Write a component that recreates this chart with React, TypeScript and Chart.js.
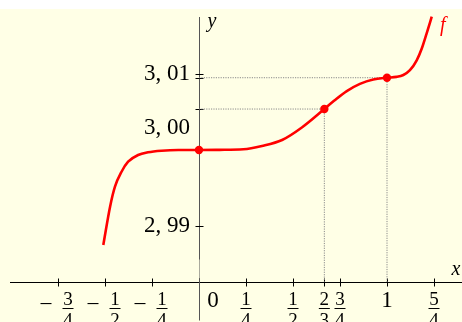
import React, { useEffect, useRef } from 'react';
import { Chart, registerables } from 'chart.js';

Chart.register(...registerables);

// Curve f
const curveX = [-0.509, -0.473, -0.447, -0.412, -0.377, -0.324, -0.271, -0.199, -0.11, 0, 0.11, 0.236, 0.335, 0.442, 0.549, 2 / 3, 0.72, 0.786, 0.856, 0.927, 1, 1.05, 1.087, 1.122, 1.158, 1.185, 1.211, 1.238];
const curveY = [2.9875, 2.99254, 2.99517, 2.99714, 2.99846, 2.99934, 2.9997, 2.99991, 3.0, 3.0, 3.00002, 3.00009, 3.00053, 3.00132, 3.003, 3.00539, 3.0065, 3.00775, 3.0087, 3.00928, 3.00951, 3.00962, 3.00987, 3.0105, 3.0118, 3.01335, 3.01535, 3.01754];

// Marked points
const markedX = [0, 2 / 3, 1];
const markedY = [3.0, 3.00539, 3.00951];

// Ticks
const xTickValues = [-0.75, -0.5, -0.25, 0, 0.25, 0.5, 2 / 3, 0.75, 1, 1.25];
const xTickLabels = ['-3/4', '-1/2', '-1/4', '0', '1/4', '1/2', '2/3', '3/4', '1', '5/4'];
const yTickValues = [2.99, 3.0, 3.01];
const yTickLabels = ['2, 99', '3, 00', '3, 01'];

// Where the x-axis crosses the (truncated) y-axis
const xAxisAt = 2.98263;

const RED = '#ff0000';
const BG = '#ffffe6';
const SERIF = '"Liberation Serif", "DejaVu Serif", serif';

function drawFraction(ctx: CanvasRenderingContext2D, cx: number, top: number, label: string) {
  let neg = false;
  let s = label;
  if (s.startsWith('-')) { neg = true; s = s.slice(1); }
  ctx.textAlign = 'center';
  ctx.textBaseline = 'alphabetic';
  if (!s.includes('/')) {
    ctx.font = `23px ${SERIF}`;
    ctx.fillText(s, cx, top + 18);
    return;
  }
  const [num, den] = s.split('/');
  let fx = cx;
  if (neg) {
    fx = cx + 10;
    const mx = cx - 12;
    ctx.fillRect(mx - 5.5, top + 14, 11, 1.1);
  }
  ctx.font = `19px ${SERIF}`;
  ctx.fillText(num, fx, top + 16);
  ctx.fillRect(fx - 5.5, top + 19, 11, 1);
  ctx.fillText(den, fx, top + 37);
}

const axesPlugin = {
  id: 'mathAxes',
  beforeDraw(chart: any) {
    const { ctx, width, height } = chart;
    ctx.save();
    ctx.fillStyle = '#ffffff';
    ctx.fillRect(0, 0, width, height);
    ctx.fillStyle = BG;
    ctx.fillRect(0, 9, width, height - 9);
    ctx.restore();
  },
  beforeDatasetsDraw(chart: any) {
    const { ctx, width } = chart;
    const xs = chart.scales.x;
    const ys = chart.scales.y;
    const x0 = Math.round(xs.getPixelForValue(0)) + 0.5;
    const yA = Math.round(ys.getPixelForValue(xAxisAt)) + 0.5;
    ctx.save();
    // x axis
    ctx.strokeStyle = '#000';
    ctx.lineWidth = 1;
    ctx.beginPath();
    ctx.moveTo(10, yA);
    ctx.lineTo(width, yA);
    ctx.stroke();
    for (const v of xTickValues) {
      const px = Math.round(xs.getPixelForValue(v)) + 0.5;
      ctx.beginPath();
      ctx.moveTo(px, yA - 4);
      ctx.lineTo(px, yA + 4);
      ctx.stroke();
    }
    // y axis (truncated)
    ctx.strokeStyle = '#555';
    ctx.beginPath();
    ctx.moveTo(x0, 17);
    ctx.lineTo(x0, yA - 23);
    ctx.stroke();
    ctx.setLineDash([1, 1]);
    ctx.beginPath();
    ctx.moveTo(x0, yA - 23);
    ctx.lineTo(x0, yA - 4);
    ctx.stroke();
    ctx.setLineDash([]);
    ctx.beginPath();
    ctx.moveTo(x0, yA - 4);
    ctx.lineTo(x0, yA + 38);
    ctx.stroke();
    // y ticks
    ctx.strokeStyle = '#000';
    const yt = [...yTickValues, ...markedY.slice(1)];
    for (const v of yt) {
      const py = Math.round(ys.getPixelForValue(v)) + 0.5;
      ctx.beginPath();
      ctx.moveTo(x0 - 4, py);
      ctx.lineTo(x0 + 4, py);
      ctx.stroke();
    }
    ctx.restore();
  },
  afterDraw(chart: any) {
    const { ctx, width } = chart;
    const xs = chart.scales.x;
    const ys = chart.scales.y;
    const x0 = xs.getPixelForValue(0);
    const yA = ys.getPixelForValue(xAxisAt);
    ctx.save();
    ctx.fillStyle = '#000';
    // x tick labels
    xTickValues.forEach((v, i) => {
      let px = xs.getPixelForValue(v);
      if (v === 0) px += 14;
      drawFraction(ctx, px, yA + 7, xTickLabels[i]);
    });
    // y tick labels
    ctx.font = `23px ${SERIF}`;
    ctx.textAlign = 'right';
    ctx.textBaseline = 'middle';
    yTickValues.forEach((v, i) => {
      let py = ys.getPixelForValue(v);
      if (v === 3.0) py -= 22;
      ctx.fillText(yTickLabels[i], x0 - 9, py);
    });
    // axis names
    ctx.font = `italic 20px ${SERIF}`;
    ctx.textAlign = 'center';
    ctx.fillText('x', width - 6, yA - 12);
    ctx.fillText('y', x0 + 13, 22);
    // curve label
    ctx.fillStyle = RED;
    const lx = xs.getPixelForValue(curveX[curveX.length - 1]);
    const ly = ys.getPixelForValue(curveY[curveY.length - 1]);
    ctx.fillText('f', lx + 11, ly + 9);
    ctx.restore();
  },
};

export default function App() {
  const ref = useRef<HTMLCanvasElement | null>(null);
  useEffect(() => {
    if (!ref.current) return;
    const guide = (i: number) => ({
      data: [
        { x: 0, y: markedY[i] },
        { x: markedX[i], y: markedY[i] },
        { x: markedX[i], y: xAxisAt },
      ],
      showLine: true,
      borderColor: '#8a8a8a',
      borderWidth: 1,
      borderDash: [1.2, 1.2],
      pointRadius: 0,
      tension: 0,
      order: 3,
    });
    const chart = new Chart(ref.current, {
      type: 'scatter',
      data: {
        datasets: [
          guide(1),
          guide(2),
          {
            data: curveX.map((x, i) => ({ x, y: curveY[i] })),
            showLine: true,
            borderColor: RED,
            borderWidth: 2.6,
            pointRadius: 0,
            cubicInterpolationMode: 'monotone',
            order: 2,
          } as any,
          {
            data: markedX.map((x, i) => ({ x, y: markedY[i] })),
            showLine: false,
            backgroundColor: RED,
            borderColor: RED,
            borderWidth: 0,
            pointRadius: 4.2,
            order: 1,
          },
        ],
      },
      options: {
        animation: false,
        responsive: false,
        devicePixelRatio: 1,
        layout: { padding: 0, autoPadding: false },
        plugins: { legend: { display: false }, tooltip: { enabled: false } },
        scales: {
          x: { type: 'linear', min: -199 / 188, max: 263 / 188, display: false },
          y: { type: 'linear', min: 3 - 172 / 7600, max: 3 + 150 / 7600, display: false },
        },
      },
      plugins: [axesPlugin],
    });
    return () => chart.destroy();
  }, []);
  return (
    <div style={{ position: 'fixed', left: 0, top: 0, width: 462, height: 322 }}>
      <canvas ref={ref} width={462} height={322} style={{ display: 'block' }} />
    </div>
  );
}
